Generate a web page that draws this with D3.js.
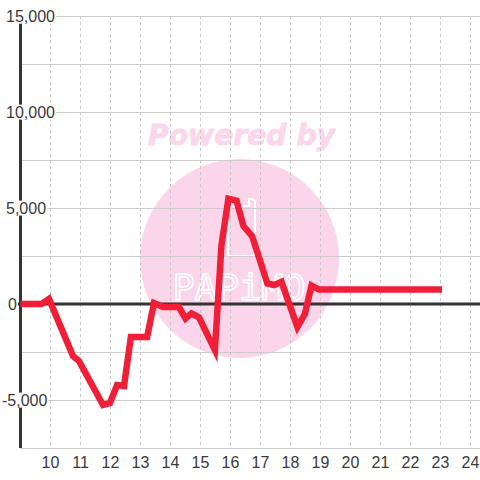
<!DOCTYPE html>
<html><head><meta charset="utf-8">
<script src="https://cdn.jsdelivr.net/npm/d3@7"></script>
<style>html,body{margin:0;padding:0;background:#fff;}svg{display:block;font-family:"Liberation Sans",Arial,sans-serif;}</style>
</head><body>
<svg id="c" width="480" height="480"></svg>
<script>
const hours = [9.0, 9.7, 9.95, 10.75, 10.95, 11.75, 11.98, 12.22, 12.45, 12.68, 13.22, 13.45, 13.75, 14.28, 14.5, 14.7, 14.95, 15.48, 15.7, 15.93, 16.2, 16.43, 16.72, 17.23, 17.45, 17.7, 18.23, 18.48, 18.7, 18.95, 23.05];
const values = [0, 0, 260, -2710, -2970, -5260, -5160, -4220, -4270, -1720, -1720, 50, -160, -160, -755, -495, -700, -2400, 3070, 5480, 5380, 4060, 3540, 1070, 990, 1150, -1200, -520, 960, 750, 750];
const xTicks = [10, 11, 12, 13, 14, 15, 16, 17, 18, 19, 20, 21, 22, 23, 24];
const yLabelTicks = [-5000, 0, 5000, 10000, 15000];
const yGridTicks = [-7500, -5000, -2500, 0, 2500, 5000, 7500, 10000, 12500, 15000];

(function () {
const svg = d3.select("#c");
const pLeft = 20.5, pRight = 480, pTop = 16, pBottom = 448;
const x = d3.scaleLinear().domain([9, 24]).range([pLeft, 470.5]);
const y = d3.scaleLinear().domain([-7500, 15000]).range([pBottom, pTop]);

// watermark
const wm = svg.append("g");
wm.append("circle").attr("cx", 239.5).attr("cy", 258.5).attr("r", 99.5).attr("fill", "#fbd5ea");
wm.append("text").attr("x", 241.5).attr("y", 145).attr("text-anchor", "middle")
  .attr("font-family", "DejaVu Sans").attr("font-weight", "bold").attr("font-style", "italic")
  .attr("font-size", 29).attr("textLength", 187).attr("lengthAdjust", "spacingAndGlyphs")
  .attr("fill", "#fcd6ea").attr("stroke", "#fcd6ea").attr("stroke-width", 0.8).text("Powered by");
wm.append("path").attr("d", "M228,206 L228,256 L255,256 L255,203 Q255,199 251,199 L249,199 L249,206 Z")
  .attr("fill", "none").attr("stroke", "#fff").attr("stroke-width", 2);
wm.append("text").attr("x", 239).attr("y", 300).attr("text-anchor", "middle")
  .attr("font-family", "DejaVu Sans Mono").attr("font-weight", "300")
  .attr("font-size", 36).attr("textLength", 133).attr("lengthAdjust", "spacingAndGlyphs")
  .attr("fill", "none").attr("stroke", "#fff").attr("stroke-width", 1.6).text("PAPiMO");

// horizontal gridlines
svg.append("g").selectAll("line").data(yGridTicks).join("line")
  .attr("x1", pLeft).attr("x2", pRight).attr("y1", d => Math.round(y(d)) + 0.5).attr("y2", d => Math.round(y(d)) + 0.5)
  .attr("stroke", "#ccc").attr("stroke-width", 1);
// vertical dashed gridlines
svg.append("g").selectAll("line").data(xTicks).join("line")
  .attr("x1", d => x(d)).attr("x2", d => x(d)).attr("y1", pTop).attr("y2", pBottom)
  .attr("stroke", "#c8c8c8").attr("stroke-width", 1).attr("stroke-dasharray", "3,3");

// zero line and y axis
svg.append("line").attr("x1", 17).attr("x2", pRight).attr("y1", y(0)).attr("y2", y(0))
  .attr("stroke", "#333").attr("stroke-width", 3);
svg.append("line").attr("x1", 20.5).attr("x2", 20.5).attr("y1", pTop).attr("y2", pBottom)
  .attr("stroke", "#333").attr("stroke-width", 3);

// data line
const line = d3.line().x((d, i) => x(hours[i])).y(d => y(d));
svg.append("path").datum(values).attr("d", line).attr("fill", "none")
  .attr("stroke", "#ef1f37").attr("stroke-width", 6.5).attr("stroke-linejoin", "miter").attr("stroke-miterlimit", 4);

// y labels with background boxes
const fmt = d3.format(",");
const yl = svg.append("g").selectAll("g").data(yLabelTicks).join("g");
yl.append("rect");
yl.append("text").attr("x", d => d < 0 ? 2 : (d === 0 ? 8 : 6)).attr("y", d => y(d)).attr("dy", "0.35em")
  .attr("font-size", 16).attr("fill", "#3a3a3a").text(d => fmt(d).replace("−", "-"));
yl.each(function() {
  const g = d3.select(this), b = g.select("text").node().getBBox();
  g.select("rect").attr("x", b.x - 1).attr("y", b.y + 1).attr("width", b.width + 2).attr("height", b.height - 2).attr("fill", "#fff");
});

// x labels
svg.append("g").selectAll("text").data(xTicks).join("text")
  .attr("x", d => x(d)).attr("y", 468).attr("text-anchor", "middle")
  .attr("font-size", 16).attr("fill", "#3a3a3a").text(d => d);
})();
</script>
</body></html>
